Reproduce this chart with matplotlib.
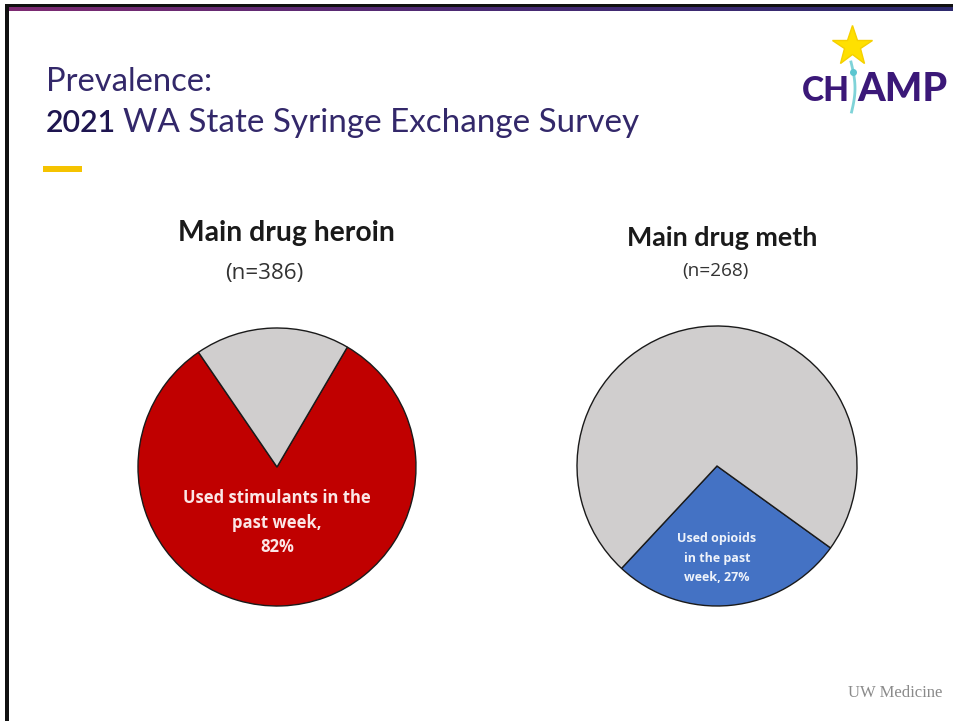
import numpy as np
import matplotlib
matplotlib.use('Agg')
import matplotlib.pyplot as plt
from matplotlib.colors import LinearSegmentedColormap

# chart data
heroin_values = [82, 18]
heroin_colors = ['#C00000', '#D0CECE']
heroin_label = 'Used stimulants in the\npast week,\n82%'
heroin_title = 'Main drug heroin'
heroin_n = '(n=386)'

meth_values = [27, 73]
meth_colors = ['#4472C4', '#D0CECE']
meth_label = 'Used opioids\nin the past\nweek, 27%'
meth_title = 'Main drug meth'
meth_n = '(n=268)'

W, H = 954, 721
fig = plt.figure(figsize=(W / 100, H / 100), dpi=100)
fig.patch.set_facecolor('white')

# background axes in pixel coordinates (y downward)
bg = fig.add_axes([0, 0, 1, 1])
bg.set_xlim(0, W)
bg.set_ylim(H, 0)
bg.axis('off')


def fit_width(txt, target):
    # scale font size so the text spans the target width in pixels
    fig.canvas.draw()
    w = txt.get_window_extent().width
    txt.set_fontsize(txt.get_fontsize() * target / w)


# top border lines
bg.fill_between([5, W], 3.5, 7.5, color='#111111', lw=0)
grad = LinearSegmentedColormap.from_list('g', ['#7E2A72', '#4A2A74', '#2E2A6E'])
bg.imshow(np.linspace(0, 1, 256)[None, :], cmap=grad, aspect='auto',
          extent=[6, W, 11, 7.5], zorder=1)
bg.set_xlim(0, W)
bg.set_ylim(H, 0)
# left border
bg.fill_between([5.5, 9], 3.5, H, color='#111111', lw=0)

# title
title_color = '#33286A'
p = bg.text(46, 91, 'Prevalence:', family='Lato', color=title_color, fontsize=22,
            va='baseline', ha='left')
fit_width(p, 166)
t = bg.text(46, 132, '2021', family='Lato', weight='semibold', color='#1E1550',
            fontsize=22, va='baseline', ha='left')
fit_width(t, 70)
fig.canvas.draw()
bb = t.get_window_extent()
t2 = bg.text(bb.x1 + 7, 132, 'WA State Syringe Exchange Survey', family='Lato',
             color=title_color, fontsize=22, va='baseline', ha='left')
fit_width(t2, 638 - (bb.x1 + 7))

# yellow dash
bg.fill_between([43, 82], 166, 172, color='#F5C300', lw=0)

# CHAMP logo
c1 = bg.text(802, 101, 'CH', family='Lato', weight='black', color='#3B1878',
             fontsize=30, va='baseline', ha='left')
c2 = bg.text(857, 101, 'AMP', family='Lato', weight='black', color='#3B1878',
             fontsize=30, va='baseline', ha='left')
fit_width(c1, 48)
fit_width(c2, 90)
bg.plot([852], [46], marker='*', markersize=30, color='#FFE000',
        markeredgecolor='#F5D000', zorder=5)
tt = np.linspace(0, 1, 30)
bg.plot(851 + 4 * np.sin(tt * 3), 62 + tt * 50, color='#7FD3D8', lw=2, zorder=6)
bg.plot([853], [72], 'o', color='#5BC6D0', markersize=4, zorder=6)

# UW Medicine
bg.text(942, 697, 'UW Medicine', family='Liberation Serif', color='#8A8A8A',
        fontsize=12, ha='right', va='baseline')


def pie_axes(cx, cy, r):
    ax = fig.add_axes([(cx - r) / W, (H - cy - r) / H, 2 * r / W, 2 * r / H])
    return ax


# heroin pie
ax1 = pie_axes(277, 467, 139)
ax1.pie(heroin_values, colors=heroin_colors, startangle=124.4,
        wedgeprops=dict(edgecolor='#1a1a1a', linewidth=1.0))
ax1.set_xlim(-1, 1)
ax1.set_ylim(-1, 1)
ax1.text(0.0, -0.40, heroin_label, ha='center', va='center', color='#FBE6E6',
         fontsize=12, weight='bold', family='Open Sans', linespacing=1.45)

h1 = bg.text(286, 241, heroin_title, ha='center', va='baseline', family='Lato',
             weight='bold', fontsize=18, color='#1A1A1A')
fit_width(h1, 217)
n1 = bg.text(264, 279, heroin_n, ha='center', va='baseline', family='Open Sans',
             fontsize=13, color='#333333')
fit_width(n1, 78)

# meth pie
ax2 = pie_axes(717, 466, 140)
ax2.pie(meth_values, colors=meth_colors, startangle=227,
        wedgeprops=dict(edgecolor='#1a1a1a', linewidth=1.0))
ax2.set_xlim(-1, 1)
ax2.set_ylim(-1, 1)
ax2.text(0.0, -0.66, meth_label, ha='center', va='center', color='#EEF2FA',
         fontsize=9, weight='bold', family='Open Sans', linespacing=1.65)

h2 = bg.text(722, 246, meth_title, ha='center', va='baseline', family='Lato',
             weight='bold', fontsize=18, color='#1A1A1A')
fit_width(h2, 191)
n2 = bg.text(715, 276, meth_n, ha='center', va='baseline', family='Open Sans',
             fontsize=13, color='#333333')
fit_width(n2, 66)

fig.savefig('out.png', dpi=100, facecolor='white')
